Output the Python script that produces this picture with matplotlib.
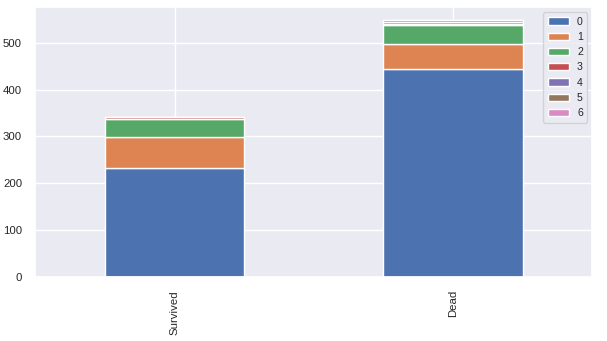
import numpy as np
import pandas as pd
import seaborn as sns
import matplotlib.pyplot as plt

sns.set_theme(style="darkgrid")
plt.rcParams['font.family'] = ['Liberation Sans', 'DejaVu Sans']

groups = ["Survived", "Dead"]
parch = [0, 1, 2, 3, 4, 5, 6]
survived = [233, 65, 40, 3, np.nan, 1, np.nan]
dead = [445, 53, 40, 2, 4, 4, 1]

df = pd.DataFrame([survived, dead], index=groups, columns=parch)

fig = plt.figure(figsize=(6.07, 3.41), dpi=100)
ax = fig.add_axes([0.058, 0.188, 0.918, 0.791])
df.plot(kind="bar", stacked=True, ax=ax)

ax.set_ylim(0, 576)
ax.tick_params(labelsize=8.2)
ax.legend(fontsize=7.6, loc="upper right")

fig.savefig("out.png", dpi=100)
